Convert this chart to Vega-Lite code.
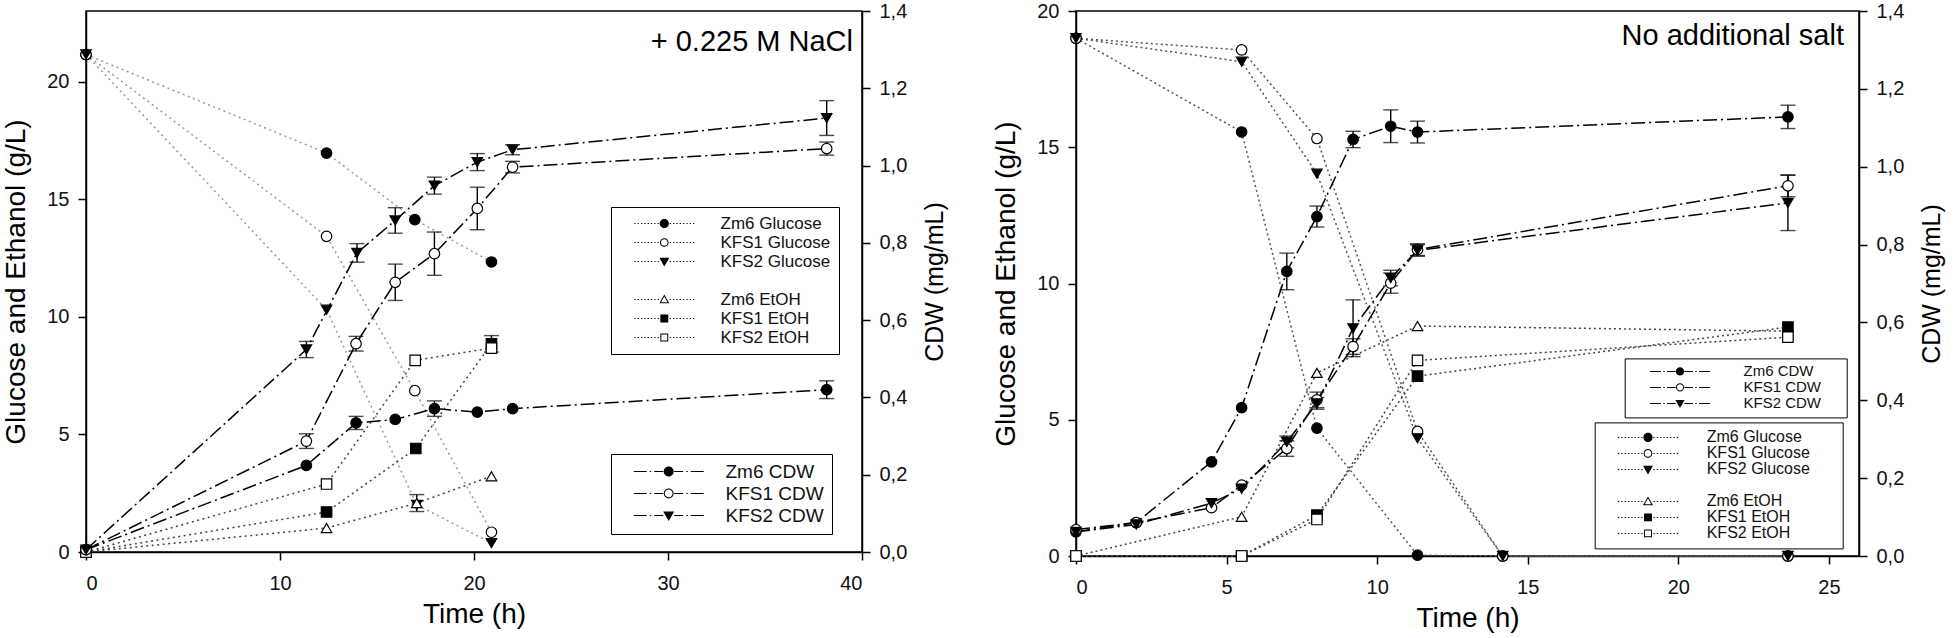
{
"$schema": "https://vega.github.io/schema/vega-lite/v6.json",
"padding": {"left": 2, "top": 0, "right": 0, "bottom": 0},
"spacing": 43,
"datasets": {
"lg": [
{"s":"Zm6 Glucose","t":0,"v":21.15},{"s":"Zm6 Glucose","t":12.4,"v":16.96},{"s":"Zm6 Glucose","t":16.95,"v":14.13},{"s":"Zm6 Glucose","t":20.9,"v":12.33},
{"s":"KFS1 Glucose","t":0,"v":21.15},{"s":"KFS1 Glucose","t":12.4,"v":13.42},{"s":"KFS1 Glucose","t":16.95,"v":6.86},{"s":"KFS1 Glucose","t":20.9,"v":0.84},
{"s":"KFS2 Glucose","t":0,"v":21.15},{"s":"KFS2 Glucose","t":12.4,"v":10.3},{"s":"KFS2 Glucose","t":17.05,"v":2.0},{"s":"KFS2 Glucose","t":20.9,"v":0.38},
{"s":"Zm6 EtOH","t":0,"v":0},{"s":"Zm6 EtOH","t":12.4,"v":1.02},{"s":"Zm6 EtOH","t":17.05,"v":2.08,"lo":1.72,"hi":2.44},{"s":"Zm6 EtOH","t":20.9,"v":3.22},
{"s":"KFS1 EtOH","t":0,"v":0},{"s":"KFS1 EtOH","t":12.4,"v":1.7},{"s":"KFS1 EtOH","t":17.0,"v":4.4},{"s":"KFS1 EtOH","t":20.9,"v":8.85,"lo":8.5,"hi":9.2},
{"s":"KFS2 EtOH","t":0,"v":0},{"s":"KFS2 EtOH","t":12.4,"v":2.89},{"s":"KFS2 EtOH","t":16.97,"v":8.15},{"s":"KFS2 EtOH","t":20.9,"v":8.67}
],
"lc": [
{"s":"Zm6 CDW","t":0,"v":0.006},{"s":"Zm6 CDW","t":11.36,"v":0.224},{"s":"Zm6 CDW","t":13.92,"v":0.334,"lo":0.317,"hi":0.351},{"s":"Zm6 CDW","t":15.94,"v":0.343},{"s":"Zm6 CDW","t":17.96,"v":0.371,"lo":0.351,"hi":0.391},{"s":"Zm6 CDW","t":20.17,"v":0.362},{"s":"Zm6 CDW","t":21.99,"v":0.371},{"s":"Zm6 CDW","t":38.18,"v":0.42,"lo":0.397,"hi":0.443},
{"s":"KFS1 CDW","t":0,"v":0.006},{"s":"KFS1 CDW","t":11.36,"v":0.287,"lo":0.268,"hi":0.306},{"s":"KFS1 CDW","t":13.92,"v":0.539,"lo":0.52,"hi":0.558},{"s":"KFS1 CDW","t":15.94,"v":0.698,"lo":0.651,"hi":0.745},{"s":"KFS1 CDW","t":17.96,"v":0.772,"lo":0.716,"hi":0.828},{"s":"KFS1 CDW","t":20.17,"v":0.889,"lo":0.834,"hi":0.944},{"s":"KFS1 CDW","t":21.99,"v":0.996,"lo":0.981,"hi":1.011},{"s":"KFS1 CDW","t":38.18,"v":1.044,"lo":1.027,"hi":1.061},
{"s":"KFS2 CDW","t":0,"v":0.006},{"s":"KFS2 CDW","t":11.36,"v":0.524,"lo":0.503,"hi":0.545},{"s":"KFS2 CDW","t":13.97,"v":0.774,"lo":0.75,"hi":0.798},{"s":"KFS2 CDW","t":15.94,"v":0.858,"lo":0.825,"hi":0.891},{"s":"KFS2 CDW","t":17.96,"v":0.948,"lo":0.926,"hi":0.97},{"s":"KFS2 CDW","t":20.17,"v":1.009,"lo":0.987,"hi":1.031},{"s":"KFS2 CDW","t":21.99,"v":1.041,"lo":1.028,"hi":1.054},{"s":"KFS2 CDW","t":38.18,"v":1.123,"lo":1.078,"hi":1.168}
],
"rg": [
{"s":"Zm6 Glucose","t":0,"v":19.0},{"s":"Zm6 Glucose","t":5.5,"v":15.56},{"s":"Zm6 Glucose","t":8.0,"v":4.69},{"s":"Zm6 Glucose","t":11.34,"v":0.03},{"s":"Zm6 Glucose","t":14.17,"v":0},{"s":"Zm6 Glucose","t":23.64,"v":0},
{"s":"KFS1 Glucose","t":0,"v":19.0},{"s":"KFS1 Glucose","t":5.5,"v":18.57},{"s":"KFS1 Glucose","t":8.0,"v":15.32},{"s":"KFS1 Glucose","t":11.34,"v":4.57},{"s":"KFS1 Glucose","t":14.17,"v":0},{"s":"KFS1 Glucose","t":23.64,"v":0},
{"s":"KFS2 Glucose","t":0,"v":19.0},{"s":"KFS2 Glucose","t":5.5,"v":18.14},{"s":"KFS2 Glucose","t":8.0,"v":14.03},{"s":"KFS2 Glucose","t":11.34,"v":4.32},{"s":"KFS2 Glucose","t":14.17,"v":0},{"s":"KFS2 Glucose","t":23.64,"v":0},
{"s":"Zm6 EtOH","t":0,"v":0},{"s":"Zm6 EtOH","t":5.5,"v":1.44},{"s":"Zm6 EtOH","t":8.0,"v":6.72},{"s":"Zm6 EtOH","t":11.34,"v":8.44},{"s":"Zm6 EtOH","t":23.64,"v":8.25},
{"s":"KFS1 EtOH","t":0,"v":0},{"s":"KFS1 EtOH","t":5.5,"v":0},{"s":"KFS1 EtOH","t":8.0,"v":1.5},{"s":"KFS1 EtOH","t":11.34,"v":6.6},{"s":"KFS1 EtOH","t":23.64,"v":8.4},
{"s":"KFS2 EtOH","t":0,"v":0},{"s":"KFS2 EtOH","t":5.5,"v":0},{"s":"KFS2 EtOH","t":8.0,"v":1.34},{"s":"KFS2 EtOH","t":11.34,"v":7.18},{"s":"KFS2 EtOH","t":23.64,"v":8.03}
],
"rc": [
{"s":"Zm6 CDW","t":0,"v":0.062},{"s":"Zm6 CDW","t":2.0,"v":0.086},{"s":"Zm6 CDW","t":4.5,"v":0.242},{"s":"Zm6 CDW","t":5.5,"v":0.381},{"s":"Zm6 CDW","t":7.0,"v":0.731,"lo":0.684,"hi":0.778},{"s":"Zm6 CDW","t":8.0,"v":0.872,"lo":0.845,"hi":0.899},{"s":"Zm6 CDW","t":9.2,"v":1.07,"lo":1.049,"hi":1.091},{"s":"Zm6 CDW","t":10.45,"v":1.104,"lo":1.062,"hi":1.146},{"s":"Zm6 CDW","t":11.34,"v":1.089,"lo":1.061,"hi":1.117},{"s":"Zm6 CDW","t":23.64,"v":1.128,"lo":1.098,"hi":1.158},
{"s":"KFS1 CDW","t":0,"v":0.068},{"s":"KFS1 CDW","t":2.0,"v":0.086},{"s":"KFS1 CDW","t":4.5,"v":0.124},{"s":"KFS1 CDW","t":5.5,"v":0.182},{"s":"KFS1 CDW","t":7.0,"v":0.276,"lo":0.256,"hi":0.296},{"s":"KFS1 CDW","t":8.0,"v":0.401,"lo":0.381,"hi":0.421},{"s":"KFS1 CDW","t":9.2,"v":0.538,"lo":0.518,"hi":0.558},{"s":"KFS1 CDW","t":10.45,"v":0.701,"lo":0.675,"hi":0.727},{"s":"KFS1 CDW","t":11.34,"v":0.787,"lo":0.772,"hi":0.802},{"s":"KFS1 CDW","t":23.64,"v":0.951,"lo":0.923,"hi":0.979},
{"s":"KFS2 CDW","t":0,"v":0.062},{"s":"KFS2 CDW","t":2.0,"v":0.081},{"s":"KFS2 CDW","t":4.5,"v":0.136},{"s":"KFS2 CDW","t":5.5,"v":0.173},{"s":"KFS2 CDW","t":7.0,"v":0.293,"lo":0.278,"hi":0.308},{"s":"KFS2 CDW","t":8.0,"v":0.392,"lo":0.377,"hi":0.407},{"s":"KFS2 CDW","t":9.2,"v":0.585,"lo":0.512,"hi":0.658},{"s":"KFS2 CDW","t":10.45,"v":0.714,"lo":0.694,"hi":0.734},{"s":"KFS2 CDW","t":11.34,"v":0.785,"lo":0.77,"hi":0.8},{"s":"KFS2 CDW","t":23.64,"v":0.907,"lo":0.836,"hi":0.978}
]
},
"hconcat": [
{
"width": 776, "height": 541,
"title": {"text": "+ 0.225 M NaCl", "anchor": "end", "frame": "group", "orient": "top", "offset": -56, "dx": -9, "fontSize": 29, "font": "Liberation Sans", "fontWeight": "normal", "color": "black"},
"layer": [
{"data": {"name": "lg"}, "layer": [
{"mark": {"type": "line", "strokeDash": [2, 3.5], "strokeWidth": 1.5},
 "encoding": {
  "x": {"field": "t", "type": "quantitative", "scale": {"domain": [0, 40], "nice": false, "zero": false}, "axis": {"values": [0, 10, 20, 30, 40], "title": "Time (h)"}},
  "y": {"field": "v", "type": "quantitative", "scale": {"domain": [0, 23], "nice": false}, "axis": {"orient": "left", "values": [0, 5, 10, 15, 20], "title": "Glucose and Ethanol (g/L)"}},
  "color": {"field": "s", "type": "nominal", "scale": {"domain": ["Zm6 Glucose","KFS1 Glucose","KFS2 Glucose","Zm6 EtOH","KFS1 EtOH","KFS2 EtOH"], "range": ["#9a9a9a","#9a9a9a","#9a9a9a","#444444","#444444","#444444"]}, "legend": null}}},
{"transform": [{"filter": "isValid(datum.lo)"}], "mark": {"type": "rule", "color": "black", "strokeWidth": 1.4},
 "encoding": {
  "x": {"field": "t", "type": "quantitative", "scale": {"domain": [0, 40], "nice": false, "zero": false}, "axis": {"values": [0, 10, 20, 30, 40], "title": "Time (h)"}},
  "y": {"field": "lo", "type": "quantitative", "scale": {"domain": [0, 23], "nice": false}, "axis": {"orient": "left", "values": [0, 5, 10, 15, 20], "title": "Glucose and Ethanol (g/L)"}},
  "y2": {"field": "hi"}}},
{"transform": [{"filter": "isValid(datum.lo)"}], "mark": {"type": "tick", "orient": "horizontal", "size": 15, "thickness": 1.4, "color": "black"},
 "encoding": {
  "x": {"field": "t", "type": "quantitative", "scale": {"domain": [0, 40], "nice": false, "zero": false}, "axis": {"values": [0, 10, 20, 30, 40], "title": "Time (h)"}},
  "y": {"field": "lo", "type": "quantitative", "scale": {"domain": [0, 23], "nice": false}, "axis": {"orient": "left", "values": [0, 5, 10, 15, 20], "title": "Glucose and Ethanol (g/L)"}}}},
{"transform": [{"filter": "isValid(datum.lo)"}], "mark": {"type": "tick", "orient": "horizontal", "size": 15, "thickness": 1.4, "color": "black"},
 "encoding": {
  "x": {"field": "t", "type": "quantitative", "scale": {"domain": [0, 40], "nice": false, "zero": false}, "axis": {"values": [0, 10, 20, 30, 40], "title": "Time (h)"}},
  "y": {"field": "hi", "type": "quantitative", "scale": {"domain": [0, 23], "nice": false}, "axis": {"orient": "left", "values": [0, 5, 10, 15, 20], "title": "Glucose and Ethanol (g/L)"}}}},
{"mark": {"type": "point", "filled": true, "stroke": "black", "strokeWidth": 1.2, "size": 110, "opacity": 1},
 "encoding": {
  "x": {"field": "t", "type": "quantitative", "scale": {"domain": [0, 40], "nice": false, "zero": false}, "axis": {"values": [0, 10, 20, 30, 40], "title": "Time (h)"}},
  "y": {"field": "v", "type": "quantitative", "scale": {"domain": [0, 23], "nice": false}, "axis": {"orient": "left", "values": [0, 5, 10, 15, 20], "title": "Glucose and Ethanol (g/L)"}},
  "fill": {"field": "s", "type": "nominal", "scale": {"domain": ["Zm6 Glucose","KFS1 Glucose","KFS2 Glucose","Zm6 EtOH","KFS1 EtOH","KFS2 EtOH"], "range": ["black","white","black","white","black","white"]}, "legend": null},
  "shape": {"field": "s", "type": "nominal", "scale": {"domain": ["Zm6 Glucose","KFS1 Glucose","KFS2 Glucose","Zm6 EtOH","KFS1 EtOH","KFS2 EtOH"], "range": ["circle","circle","triangle-down","triangle-up","square","square"]}, "legend": null}}}
]},
{"data": {"name": "lc"}, "layer": [
{"mark": {"type": "line", "strokeDash": [14, 4, 2, 4], "strokeWidth": 1.5, "color": "black"},
 "encoding": {
  "x": {"field": "t", "type": "quantitative", "scale": {"domain": [0, 40], "nice": false, "zero": false}, "axis": {"values": [0, 10, 20, 30, 40], "title": "Time (h)"}},
  "y": {"field": "v", "type": "quantitative", "scale": {"domain": [0, 1.4], "nice": false}, "axis": {"orient": "right", "values": [0, 0.2, 0.4, 0.6, 0.8, 1, 1.2, 1.4], "labelExpr": "replace(format(datum.value, '.1f'), '.', ',')", "title": "CDW (mg/mL)", "titleAngle": 270, "titleBaseline": "top", "titleFontSize": 25, "titlePadding": 16}},
  "detail": {"field": "s", "type": "nominal"}}},
{"transform": [{"filter": "isValid(datum.lo)"}], "mark": {"type": "rule", "color": "black", "strokeWidth": 1.4},
 "encoding": {
  "x": {"field": "t", "type": "quantitative", "scale": {"domain": [0, 40], "nice": false, "zero": false}, "axis": {"values": [0, 10, 20, 30, 40], "title": "Time (h)"}},
  "y": {"field": "lo", "type": "quantitative", "scale": {"domain": [0, 1.4], "nice": false}, "axis": {"orient": "right", "values": [0, 0.2, 0.4, 0.6, 0.8, 1, 1.2, 1.4], "labelExpr": "replace(format(datum.value, '.1f'), '.', ',')", "title": "CDW (mg/mL)", "titleAngle": 270, "titleBaseline": "top", "titleFontSize": 25, "titlePadding": 16}},
  "y2": {"field": "hi"}}},
{"transform": [{"filter": "isValid(datum.lo)"}], "mark": {"type": "tick", "orient": "horizontal", "size": 15, "thickness": 1.4, "color": "black"},
 "encoding": {
  "x": {"field": "t", "type": "quantitative", "scale": {"domain": [0, 40], "nice": false, "zero": false}, "axis": {"values": [0, 10, 20, 30, 40], "title": "Time (h)"}},
  "y": {"field": "lo", "type": "quantitative", "scale": {"domain": [0, 1.4], "nice": false}, "axis": {"orient": "right", "values": [0, 0.2, 0.4, 0.6, 0.8, 1, 1.2, 1.4], "labelExpr": "replace(format(datum.value, '.1f'), '.', ',')", "title": "CDW (mg/mL)", "titleAngle": 270, "titleBaseline": "top", "titleFontSize": 25, "titlePadding": 16}}}},
{"transform": [{"filter": "isValid(datum.lo)"}], "mark": {"type": "tick", "orient": "horizontal", "size": 15, "thickness": 1.4, "color": "black"},
 "encoding": {
  "x": {"field": "t", "type": "quantitative", "scale": {"domain": [0, 40], "nice": false, "zero": false}, "axis": {"values": [0, 10, 20, 30, 40], "title": "Time (h)"}},
  "y": {"field": "hi", "type": "quantitative", "scale": {"domain": [0, 1.4], "nice": false}, "axis": {"orient": "right", "values": [0, 0.2, 0.4, 0.6, 0.8, 1, 1.2, 1.4], "labelExpr": "replace(format(datum.value, '.1f'), '.', ',')", "title": "CDW (mg/mL)", "titleAngle": 270, "titleBaseline": "top", "titleFontSize": 25, "titlePadding": 16}}}},
{"mark": {"type": "point", "filled": true, "stroke": "black", "strokeWidth": 1.2, "size": 110, "opacity": 1},
 "encoding": {
  "x": {"field": "t", "type": "quantitative", "scale": {"domain": [0, 40], "nice": false, "zero": false}, "axis": {"values": [0, 10, 20, 30, 40], "title": "Time (h)"}},
  "y": {"field": "v", "type": "quantitative", "scale": {"domain": [0, 1.4], "nice": false}, "axis": {"orient": "right", "values": [0, 0.2, 0.4, 0.6, 0.8, 1, 1.2, 1.4], "labelExpr": "replace(format(datum.value, '.1f'), '.', ',')", "title": "CDW (mg/mL)", "titleAngle": 270, "titleBaseline": "top", "titleFontSize": 25, "titlePadding": 16}},
  "fill": {"field": "s", "type": "nominal", "scale": {"domain": ["Zm6 CDW","KFS1 CDW","KFS2 CDW"], "range": ["black","white","black"]}, "legend": null},
  "shape": {"field": "s", "type": "nominal", "scale": {"domain": ["Zm6 CDW","KFS1 CDW","KFS2 CDW"], "range": ["circle","circle","triangle-down"]}, "legend": null}}}
]},
{"data": {"values": []}, "mark": {"type": "point", "filled": true, "strokeWidth": 0, "size": 69.4, "opacity": 1, "color": "black"},
 "encoding": {
  "fill": {"field": "s", "type": "nominal", "scale": {"domain": ["Zm6 Glucose","KFS1 Glucose","KFS2 Glucose"," ","Zm6 EtOH","KFS1 EtOH","KFS2 EtOH"], "range": ["black","black","black","black","black","black","black"]}, "legend": null},
  "shape": {"field": "s", "type": "nominal", "scale": {"domain": ["Zm6 Glucose","KFS1 Glucose","KFS2 Glucose"," ","Zm6 EtOH","KFS1 EtOH","KFS2 EtOH"], "range": [
   "M-9.06,0h0.001M34.5,0h0.001M-7.2,-0.12h0.3v0.24h-0.3ZM-6.4,-0.12h0.3v0.24h-0.3ZM-5.6,-0.12h0.3v0.24h-0.3ZM-4.8,-0.12h0.3v0.24h-0.3ZM-4,-0.12h0.3v0.24h-0.3ZM-3.2,-0.12h0.3v0.24h-0.3ZM-2.4,-0.12h0.3v0.24h-0.3ZM-1.6,-0.12h0.3v0.24h-0.3ZM1.3,-0.12h0.3v0.24h-0.3ZM2.1,-0.12h0.3v0.24h-0.3ZM2.9,-0.12h0.3v0.24h-0.3ZM3.7,-0.12h0.3v0.24h-0.3ZM4.5,-0.12h0.3v0.24h-0.3ZM5.3,-0.12h0.3v0.24h-0.3ZM6.1,-0.12h0.3v0.24h-0.3ZM6.9,-0.12h0.3v0.24h-0.3ZM1.1,0A1.1,1.1,0,1,1,-1.1,0A1.1,1.1,0,1,1,1.1,0Z",
   "M-9.06,0h0.001M34.5,0h0.001M-7.2,-0.12h0.3v0.24h-0.3ZM-6.4,-0.12h0.3v0.24h-0.3ZM-5.6,-0.12h0.3v0.24h-0.3ZM-4.8,-0.12h0.3v0.24h-0.3ZM-4,-0.12h0.3v0.24h-0.3ZM-3.2,-0.12h0.3v0.24h-0.3ZM-2.4,-0.12h0.3v0.24h-0.3ZM-1.6,-0.12h0.3v0.24h-0.3ZM1.3,-0.12h0.3v0.24h-0.3ZM2.1,-0.12h0.3v0.24h-0.3ZM2.9,-0.12h0.3v0.24h-0.3ZM3.7,-0.12h0.3v0.24h-0.3ZM4.5,-0.12h0.3v0.24h-0.3ZM5.3,-0.12h0.3v0.24h-0.3ZM6.1,-0.12h0.3v0.24h-0.3ZM6.9,-0.12h0.3v0.24h-0.3ZM1.05,0A1.05,1.05,0,1,1,-1.05,0A1.05,1.05,0,1,1,1.05,0ZM0.81,0A0.81,0.81,0,1,0,-0.81,0A0.81,0.81,0,1,0,0.81,0Z",
   "M-9.06,0h0.001M34.5,0h0.001M-7.2,-0.12h0.3v0.24h-0.3ZM-6.4,-0.12h0.3v0.24h-0.3ZM-5.6,-0.12h0.3v0.24h-0.3ZM-4.8,-0.12h0.3v0.24h-0.3ZM-4,-0.12h0.3v0.24h-0.3ZM-3.2,-0.12h0.3v0.24h-0.3ZM-2.4,-0.12h0.3v0.24h-0.3ZM-1.6,-0.12h0.3v0.24h-0.3ZM1.3,-0.12h0.3v0.24h-0.3ZM2.1,-0.12h0.3v0.24h-0.3ZM2.9,-0.12h0.3v0.24h-0.3ZM3.7,-0.12h0.3v0.24h-0.3ZM4.5,-0.12h0.3v0.24h-0.3ZM5.3,-0.12h0.3v0.24h-0.3ZM6.1,-0.12h0.3v0.24h-0.3ZM6.9,-0.12h0.3v0.24h-0.3ZM-1.2,-0.9L1.2,-0.9L0,1.2Z",
   "M-9.06,0h0.001M34.5,0h0.001",
   "M-9.06,0h0.001M34.5,0h0.001M-7.2,-0.12h0.3v0.24h-0.3ZM-6.4,-0.12h0.3v0.24h-0.3ZM-5.6,-0.12h0.3v0.24h-0.3ZM-4.8,-0.12h0.3v0.24h-0.3ZM-4,-0.12h0.3v0.24h-0.3ZM-3.2,-0.12h0.3v0.24h-0.3ZM-2.4,-0.12h0.3v0.24h-0.3ZM-1.6,-0.12h0.3v0.24h-0.3ZM1.3,-0.12h0.3v0.24h-0.3ZM2.1,-0.12h0.3v0.24h-0.3ZM2.9,-0.12h0.3v0.24h-0.3ZM3.7,-0.12h0.3v0.24h-0.3ZM4.5,-0.12h0.3v0.24h-0.3ZM5.3,-0.12h0.3v0.24h-0.3ZM6.1,-0.12h0.3v0.24h-0.3ZM6.9,-0.12h0.3v0.24h-0.3ZM-1.2,0.9L1.2,0.9L0,-1.2ZM0,-0.717L0.786,0.658L-0.786,0.658Z",
   "M-9.06,0h0.001M34.5,0h0.001M-7.2,-0.12h0.3v0.24h-0.3ZM-6.4,-0.12h0.3v0.24h-0.3ZM-5.6,-0.12h0.3v0.24h-0.3ZM-4.8,-0.12h0.3v0.24h-0.3ZM-4,-0.12h0.3v0.24h-0.3ZM-3.2,-0.12h0.3v0.24h-0.3ZM-2.4,-0.12h0.3v0.24h-0.3ZM-1.6,-0.12h0.3v0.24h-0.3ZM1.3,-0.12h0.3v0.24h-0.3ZM2.1,-0.12h0.3v0.24h-0.3ZM2.9,-0.12h0.3v0.24h-0.3ZM3.7,-0.12h0.3v0.24h-0.3ZM4.5,-0.12h0.3v0.24h-0.3ZM5.3,-0.12h0.3v0.24h-0.3ZM6.1,-0.12h0.3v0.24h-0.3ZM6.9,-0.12h0.3v0.24h-0.3ZM-0.95,-0.95H0.95V0.95H-0.95Z",
   "M-9.06,0h0.001M34.5,0h0.001M-7.2,-0.12h0.3v0.24h-0.3ZM-6.4,-0.12h0.3v0.24h-0.3ZM-5.6,-0.12h0.3v0.24h-0.3ZM-4.8,-0.12h0.3v0.24h-0.3ZM-4,-0.12h0.3v0.24h-0.3ZM-3.2,-0.12h0.3v0.24h-0.3ZM-2.4,-0.12h0.3v0.24h-0.3ZM-1.6,-0.12h0.3v0.24h-0.3ZM1.3,-0.12h0.3v0.24h-0.3ZM2.1,-0.12h0.3v0.24h-0.3ZM2.9,-0.12h0.3v0.24h-0.3ZM3.7,-0.12h0.3v0.24h-0.3ZM4.5,-0.12h0.3v0.24h-0.3ZM5.3,-0.12h0.3v0.24h-0.3ZM6.1,-0.12h0.3v0.24h-0.3ZM6.9,-0.12h0.3v0.24h-0.3ZM-0.95,-0.95H0.95V0.95H-0.95ZM-0.71,-0.71V0.71H0.71V-0.71Z"]},
   "legend": {"orient": "none", "legendX": 525, "legendY": 196, "title": null, "columns": 1, "padding": 8, "strokeColor": "black", "fillColor": "white", "labelFontSize": 17, "labelAlign": "left", "symbolSize": 69.4, "symbolOffset": 36.8, "labelOffset": 47.7, "rowPadding": 1, "symbolStrokeWidth": 0, "symbolFillColor": "black",
    "encode": {"symbols": {"fill": {"value": "black"}, "strokeWidth": {"value": 0}, "opacity": {"value": 1}}, "legend": {"strokeWidth": {"value": 1.5}}}}}}},
{"data": {"values": []}, "mark": {"type": "point", "filled": true, "strokeWidth": 0, "size": 100, "opacity": 1, "color": "black"},
 "encoding": {
  "fill": {"field": "s", "type": "nominal", "scale": {"domain": ["Zm6 CDW","KFS1 CDW","KFS2 CDW"], "range": ["black","black","black"]}, "legend": null},
  "shape": {"field": "s", "type": "nominal", "scale": {"domain": ["Zm6 CDW","KFS1 CDW","KFS2 CDW"], "range": [
   "M-8.28,0h0.001M28.05,0h0.001M-7,-0.1H-4.4V0.1H-7ZM-3.8,-0.1H-3.5V0.1H-3.8ZM-2.9,-0.1H-1.1V0.1H-2.9ZM1.1,-0.1H2.9V0.1H1.1ZM3.5,-0.1H3.8V0.1H3.5ZM4.4,-0.1H7V0.1H4.4ZM1,0A1,1,0,1,1,-1,0A1,1,0,1,1,1,0Z",
   "M-8.28,0h0.001M28.05,0h0.001M-7,-0.1H-4.4V0.1H-7ZM-3.8,-0.1H-3.5V0.1H-3.8ZM-2.9,-0.1H-1.1V0.1H-2.9ZM1.1,-0.1H2.9V0.1H1.1ZM3.5,-0.1H3.8V0.1H3.5ZM4.4,-0.1H7V0.1H4.4ZM0.98,0A0.98,0.98,0,1,1,-0.98,0A0.98,0.98,0,1,1,0.98,0ZM0.78,0A0.78,0.78,0,1,0,-0.78,0A0.78,0.78,0,1,0,0.78,0Z",
   "M-8.28,0h0.001M28.05,0h0.001M-7,-0.1H-4.4V0.1H-7ZM-3.8,-0.1H-3.5V0.1H-3.8ZM-2.9,-0.1H-1.1V0.1H-2.9ZM1.1,-0.1H2.9V0.1H1.1ZM3.5,-0.1H3.8V0.1H3.5ZM4.4,-0.1H7V0.1H4.4ZM-1.1,-0.8L1.1,-0.8L0,1.1Z"]},
   "legend": {"orient": "none", "legendX": 525, "legendY": 443, "title": null, "columns": 1, "padding": 8, "strokeColor": "black", "fillColor": "white", "labelFontSize": 19, "labelAlign": "left", "symbolSize": 100, "symbolOffset": 40.2, "labelOffset": 47.3, "rowPadding": 2, "symbolStrokeWidth": 0, "symbolFillColor": "black",
    "encode": {"symbols": {"fill": {"value": "black"}, "strokeWidth": {"value": 0}, "opacity": {"value": 1}}, "legend": {"strokeWidth": {"value": 1.5}}}}}}}
],
"resolve": {"scale": {"y": "independent", "shape": "independent", "fill": "independent", "color": "independent"}, "legend": {"shape": "independent", "fill": "independent"}}
},
{
"width": 783, "height": 545,
"title": {"text": "No additional salt", "anchor": "end", "frame": "group", "orient": "top", "offset": -50, "dx": -15, "fontSize": 29, "font": "Liberation Sans", "fontWeight": "normal", "color": "black"},
"layer": [
{"data": {"name": "rg"}, "layer": [
{"mark": {"type": "line", "strokeDash": [2, 3], "strokeWidth": 1.5},
 "encoding": {
  "x": {"field": "t", "type": "quantitative", "scale": {"domain": [0, 26], "nice": false, "zero": false}, "axis": {"values": [0, 5, 10, 15, 20, 25], "title": "Time (h)"}},
  "y": {"field": "v", "type": "quantitative", "scale": {"domain": [0, 20], "nice": false}, "axis": {"orient": "left", "values": [0, 5, 10, 15, 20], "title": "Glucose and Ethanol (g/L)"}},
  "color": {"field": "s", "type": "nominal", "scale": {"domain": ["Zm6 Glucose","KFS1 Glucose","KFS2 Glucose","Zm6 EtOH","KFS1 EtOH","KFS2 EtOH"], "range": ["#555555","#555555","#555555","#444444","#444444","#444444"]}, "legend": null}}},
{"mark": {"type": "point", "filled": true, "stroke": "black", "strokeWidth": 1.2, "size": 110, "opacity": 1},
 "encoding": {
  "x": {"field": "t", "type": "quantitative", "scale": {"domain": [0, 26], "nice": false, "zero": false}, "axis": {"values": [0, 5, 10, 15, 20, 25], "title": "Time (h)"}},
  "y": {"field": "v", "type": "quantitative", "scale": {"domain": [0, 20], "nice": false}, "axis": {"orient": "left", "values": [0, 5, 10, 15, 20], "title": "Glucose and Ethanol (g/L)"}},
  "fill": {"field": "s", "type": "nominal", "scale": {"domain": ["Zm6 Glucose","KFS1 Glucose","KFS2 Glucose","Zm6 EtOH","KFS1 EtOH","KFS2 EtOH"], "range": ["black","white","black","white","black","white"]}, "legend": null},
  "shape": {"field": "s", "type": "nominal", "scale": {"domain": ["Zm6 Glucose","KFS1 Glucose","KFS2 Glucose","Zm6 EtOH","KFS1 EtOH","KFS2 EtOH"], "range": ["circle","circle","triangle-down","triangle-up","square","square"]}, "legend": null}}}
]},
{"data": {"name": "rc"}, "layer": [
{"mark": {"type": "line", "strokeDash": [14, 4, 2, 4], "strokeWidth": 1.5, "color": "black"},
 "encoding": {
  "x": {"field": "t", "type": "quantitative", "scale": {"domain": [0, 26], "nice": false, "zero": false}, "axis": {"values": [0, 5, 10, 15, 20, 25], "title": "Time (h)"}},
  "y": {"field": "v", "type": "quantitative", "scale": {"domain": [0, 1.4], "nice": false}, "axis": {"orient": "right", "values": [0, 0.2, 0.4, 0.6, 0.8, 1, 1.2, 1.4], "labelExpr": "replace(format(datum.value, '.1f'), '.', ',')", "title": "CDW (mg/mL)", "titleAngle": 270, "titleBaseline": "top", "titleFontSize": 25, "titlePadding": 16}},
  "detail": {"field": "s", "type": "nominal"}}},
{"transform": [{"filter": "isValid(datum.lo)"}], "mark": {"type": "rule", "color": "black", "strokeWidth": 1.4},
 "encoding": {
  "x": {"field": "t", "type": "quantitative", "scale": {"domain": [0, 26], "nice": false, "zero": false}, "axis": {"values": [0, 5, 10, 15, 20, 25], "title": "Time (h)"}},
  "y": {"field": "lo", "type": "quantitative", "scale": {"domain": [0, 1.4], "nice": false}, "axis": {"orient": "right", "values": [0, 0.2, 0.4, 0.6, 0.8, 1, 1.2, 1.4], "labelExpr": "replace(format(datum.value, '.1f'), '.', ',')", "title": "CDW (mg/mL)", "titleAngle": 270, "titleBaseline": "top", "titleFontSize": 25, "titlePadding": 16}},
  "y2": {"field": "hi"}}},
{"transform": [{"filter": "isValid(datum.lo)"}], "mark": {"type": "tick", "orient": "horizontal", "size": 15, "thickness": 1.4, "color": "black"},
 "encoding": {
  "x": {"field": "t", "type": "quantitative", "scale": {"domain": [0, 26], "nice": false, "zero": false}, "axis": {"values": [0, 5, 10, 15, 20, 25], "title": "Time (h)"}},
  "y": {"field": "lo", "type": "quantitative", "scale": {"domain": [0, 1.4], "nice": false}, "axis": {"orient": "right", "values": [0, 0.2, 0.4, 0.6, 0.8, 1, 1.2, 1.4], "labelExpr": "replace(format(datum.value, '.1f'), '.', ',')", "title": "CDW (mg/mL)", "titleAngle": 270, "titleBaseline": "top", "titleFontSize": 25, "titlePadding": 16}}}},
{"transform": [{"filter": "isValid(datum.lo)"}], "mark": {"type": "tick", "orient": "horizontal", "size": 15, "thickness": 1.4, "color": "black"},
 "encoding": {
  "x": {"field": "t", "type": "quantitative", "scale": {"domain": [0, 26], "nice": false, "zero": false}, "axis": {"values": [0, 5, 10, 15, 20, 25], "title": "Time (h)"}},
  "y": {"field": "hi", "type": "quantitative", "scale": {"domain": [0, 1.4], "nice": false}, "axis": {"orient": "right", "values": [0, 0.2, 0.4, 0.6, 0.8, 1, 1.2, 1.4], "labelExpr": "replace(format(datum.value, '.1f'), '.', ',')", "title": "CDW (mg/mL)", "titleAngle": 270, "titleBaseline": "top", "titleFontSize": 25, "titlePadding": 16}}}},
{"mark": {"type": "point", "filled": true, "stroke": "black", "strokeWidth": 1.2, "size": 110, "opacity": 1},
 "encoding": {
  "x": {"field": "t", "type": "quantitative", "scale": {"domain": [0, 26], "nice": false, "zero": false}, "axis": {"values": [0, 5, 10, 15, 20, 25], "title": "Time (h)"}},
  "y": {"field": "v", "type": "quantitative", "scale": {"domain": [0, 1.4], "nice": false}, "axis": {"orient": "right", "values": [0, 0.2, 0.4, 0.6, 0.8, 1, 1.2, 1.4], "labelExpr": "replace(format(datum.value, '.1f'), '.', ',')", "title": "CDW (mg/mL)", "titleAngle": 270, "titleBaseline": "top", "titleFontSize": 25, "titlePadding": 16}},
  "fill": {"field": "s", "type": "nominal", "scale": {"domain": ["Zm6 CDW","KFS1 CDW","KFS2 CDW"], "range": ["black","white","black"]}, "legend": null},
  "shape": {"field": "s", "type": "nominal", "scale": {"domain": ["Zm6 CDW","KFS1 CDW","KFS2 CDW"], "range": ["circle","circle","triangle-down"]}, "legend": null}}}
]},
{"data": {"values": []}, "mark": {"type": "point", "filled": true, "strokeWidth": 0, "size": 69.4, "opacity": 1, "color": "black"},
 "encoding": {
  "fill": {"field": "s", "type": "nominal", "scale": {"domain": ["Zm6 Glucose","KFS1 Glucose","KFS2 Glucose"," ","Zm6 EtOH","KFS1 EtOH","KFS2 EtOH"], "range": ["black","black","black","black","black","black","black"]}, "legend": null},
  "shape": {"field": "s", "type": "nominal", "scale": {"domain": ["Zm6 Glucose","KFS1 Glucose","KFS2 Glucose"," ","Zm6 EtOH","KFS1 EtOH","KFS2 EtOH"], "range": [
   "M-9.26,0h0.001M45,0h0.001M-7.2,-0.12h0.3v0.24h-0.3ZM-6.4,-0.12h0.3v0.24h-0.3ZM-5.6,-0.12h0.3v0.24h-0.3ZM-4.8,-0.12h0.3v0.24h-0.3ZM-4,-0.12h0.3v0.24h-0.3ZM-3.2,-0.12h0.3v0.24h-0.3ZM-2.4,-0.12h0.3v0.24h-0.3ZM-1.6,-0.12h0.3v0.24h-0.3ZM1.3,-0.12h0.3v0.24h-0.3ZM2.1,-0.12h0.3v0.24h-0.3ZM2.9,-0.12h0.3v0.24h-0.3ZM3.7,-0.12h0.3v0.24h-0.3ZM4.5,-0.12h0.3v0.24h-0.3ZM5.3,-0.12h0.3v0.24h-0.3ZM6.1,-0.12h0.3v0.24h-0.3ZM6.9,-0.12h0.3v0.24h-0.3ZM1.1,0A1.1,1.1,0,1,1,-1.1,0A1.1,1.1,0,1,1,1.1,0Z",
   "M-9.26,0h0.001M45,0h0.001M-7.2,-0.12h0.3v0.24h-0.3ZM-6.4,-0.12h0.3v0.24h-0.3ZM-5.6,-0.12h0.3v0.24h-0.3ZM-4.8,-0.12h0.3v0.24h-0.3ZM-4,-0.12h0.3v0.24h-0.3ZM-3.2,-0.12h0.3v0.24h-0.3ZM-2.4,-0.12h0.3v0.24h-0.3ZM-1.6,-0.12h0.3v0.24h-0.3ZM1.3,-0.12h0.3v0.24h-0.3ZM2.1,-0.12h0.3v0.24h-0.3ZM2.9,-0.12h0.3v0.24h-0.3ZM3.7,-0.12h0.3v0.24h-0.3ZM4.5,-0.12h0.3v0.24h-0.3ZM5.3,-0.12h0.3v0.24h-0.3ZM6.1,-0.12h0.3v0.24h-0.3ZM6.9,-0.12h0.3v0.24h-0.3ZM1.05,0A1.05,1.05,0,1,1,-1.05,0A1.05,1.05,0,1,1,1.05,0ZM0.81,0A0.81,0.81,0,1,0,-0.81,0A0.81,0.81,0,1,0,0.81,0Z",
   "M-9.26,0h0.001M45,0h0.001M-7.2,-0.12h0.3v0.24h-0.3ZM-6.4,-0.12h0.3v0.24h-0.3ZM-5.6,-0.12h0.3v0.24h-0.3ZM-4.8,-0.12h0.3v0.24h-0.3ZM-4,-0.12h0.3v0.24h-0.3ZM-3.2,-0.12h0.3v0.24h-0.3ZM-2.4,-0.12h0.3v0.24h-0.3ZM-1.6,-0.12h0.3v0.24h-0.3ZM1.3,-0.12h0.3v0.24h-0.3ZM2.1,-0.12h0.3v0.24h-0.3ZM2.9,-0.12h0.3v0.24h-0.3ZM3.7,-0.12h0.3v0.24h-0.3ZM4.5,-0.12h0.3v0.24h-0.3ZM5.3,-0.12h0.3v0.24h-0.3ZM6.1,-0.12h0.3v0.24h-0.3ZM6.9,-0.12h0.3v0.24h-0.3ZM-1.2,-0.9L1.2,-0.9L0,1.2Z",
   "M-9.26,0h0.001M45,0h0.001",
   "M-9.26,0h0.001M45,0h0.001M-7.2,-0.12h0.3v0.24h-0.3ZM-6.4,-0.12h0.3v0.24h-0.3ZM-5.6,-0.12h0.3v0.24h-0.3ZM-4.8,-0.12h0.3v0.24h-0.3ZM-4,-0.12h0.3v0.24h-0.3ZM-3.2,-0.12h0.3v0.24h-0.3ZM-2.4,-0.12h0.3v0.24h-0.3ZM-1.6,-0.12h0.3v0.24h-0.3ZM1.3,-0.12h0.3v0.24h-0.3ZM2.1,-0.12h0.3v0.24h-0.3ZM2.9,-0.12h0.3v0.24h-0.3ZM3.7,-0.12h0.3v0.24h-0.3ZM4.5,-0.12h0.3v0.24h-0.3ZM5.3,-0.12h0.3v0.24h-0.3ZM6.1,-0.12h0.3v0.24h-0.3ZM6.9,-0.12h0.3v0.24h-0.3ZM-1.2,0.9L1.2,0.9L0,-1.2ZM0,-0.717L0.786,0.658L-0.786,0.658Z",
   "M-9.26,0h0.001M45,0h0.001M-7.2,-0.12h0.3v0.24h-0.3ZM-6.4,-0.12h0.3v0.24h-0.3ZM-5.6,-0.12h0.3v0.24h-0.3ZM-4.8,-0.12h0.3v0.24h-0.3ZM-4,-0.12h0.3v0.24h-0.3ZM-3.2,-0.12h0.3v0.24h-0.3ZM-2.4,-0.12h0.3v0.24h-0.3ZM-1.6,-0.12h0.3v0.24h-0.3ZM1.3,-0.12h0.3v0.24h-0.3ZM2.1,-0.12h0.3v0.24h-0.3ZM2.9,-0.12h0.3v0.24h-0.3ZM3.7,-0.12h0.3v0.24h-0.3ZM4.5,-0.12h0.3v0.24h-0.3ZM5.3,-0.12h0.3v0.24h-0.3ZM6.1,-0.12h0.3v0.24h-0.3ZM6.9,-0.12h0.3v0.24h-0.3ZM-0.95,-0.95H0.95V0.95H-0.95Z",
   "M-9.26,0h0.001M45,0h0.001M-7.2,-0.12h0.3v0.24h-0.3ZM-6.4,-0.12h0.3v0.24h-0.3ZM-5.6,-0.12h0.3v0.24h-0.3ZM-4.8,-0.12h0.3v0.24h-0.3ZM-4,-0.12h0.3v0.24h-0.3ZM-3.2,-0.12h0.3v0.24h-0.3ZM-2.4,-0.12h0.3v0.24h-0.3ZM-1.6,-0.12h0.3v0.24h-0.3ZM1.3,-0.12h0.3v0.24h-0.3ZM2.1,-0.12h0.3v0.24h-0.3ZM2.9,-0.12h0.3v0.24h-0.3ZM3.7,-0.12h0.3v0.24h-0.3ZM4.5,-0.12h0.3v0.24h-0.3ZM5.3,-0.12h0.3v0.24h-0.3ZM6.1,-0.12h0.3v0.24h-0.3ZM6.9,-0.12h0.3v0.24h-0.3ZM-0.95,-0.95H0.95V0.95H-0.95ZM-0.71,-0.71V0.71H0.71V-0.71Z"]},
   "legend": {"orient": "none", "legendX": 518.7, "legendY": 411.4, "title": null, "columns": 1, "padding": 7, "strokeColor": "black", "fillColor": "white", "labelFontSize": 16, "labelAlign": "left", "symbolSize": 69.4, "symbolOffset": 38.3, "labelOffset": 50.7, "rowPadding": 0, "symbolStrokeWidth": 0, "symbolFillColor": "black",
    "encode": {"symbols": {"fill": {"value": "black"}, "strokeWidth": {"value": 0}, "opacity": {"value": 1}}, "legend": {"strokeWidth": {"value": 1.5}}}}}}},
{"data": {"values": []}, "mark": {"type": "point", "filled": true, "strokeWidth": 0, "size": 62.4, "opacity": 1, "color": "black"},
 "encoding": {
  "fill": {"field": "s", "type": "nominal", "scale": {"domain": ["Zm6 CDW","KFS1 CDW","KFS2 CDW"], "range": ["black","black","black"]}, "legend": null},
  "shape": {"field": "s", "type": "nominal", "scale": {"domain": ["Zm6 CDW","KFS1 CDW","KFS2 CDW"], "range": [
   "M-10.5,0h0.001M40.8,0h0.001M-7.6,-0.125H-4.8V0.125H-7.6ZM-4.2,-0.125H-3.9V0.125H-4.2ZM-3.3,-0.125H-1.1V0.125H-3.3ZM1.1,-0.125H3.3V0.125H1.1ZM3.9,-0.125H4.2V0.125H3.9ZM4.8,-0.125H7.6V0.125H4.8ZM1.05,0A1.05,1.05,0,1,1,-1.05,0A1.05,1.05,0,1,1,1.05,0Z",
   "M-10.5,0h0.001M40.8,0h0.001M-7.6,-0.125H-4.8V0.125H-7.6ZM-4.2,-0.125H-3.9V0.125H-4.2ZM-3.3,-0.125H-1.1V0.125H-3.3ZM1.1,-0.125H3.3V0.125H1.1ZM3.9,-0.125H4.2V0.125H3.9ZM4.8,-0.125H7.6V0.125H4.8ZM1.02,0A1.02,1.02,0,1,1,-1.02,0A1.02,1.02,0,1,1,1.02,0ZM0.77,0A0.77,0.77,0,1,0,-0.77,0A0.77,0.77,0,1,0,0.77,0Z",
   "M-10.5,0h0.001M40.8,0h0.001M-7.6,-0.125H-4.8V0.125H-7.6ZM-4.2,-0.125H-3.9V0.125H-4.2ZM-3.3,-0.125H-1.1V0.125H-3.3ZM1.1,-0.125H3.3V0.125H1.1ZM3.9,-0.125H4.2V0.125H3.9ZM4.8,-0.125H7.6V0.125H4.8ZM-1.15,-0.85L1.15,-0.85L0,1.15Z"]},
   "legend": {"orient": "none", "legendX": 548.7, "legendY": 347.4, "title": null, "columns": 1, "padding": 5.5, "strokeColor": "black", "fillColor": "white", "labelFontSize": 15, "labelAlign": "left", "symbolSize": 62.4, "symbolOffset": 42.3, "labelOffset": 56, "rowPadding": 0, "symbolStrokeWidth": 0, "symbolFillColor": "black",
    "encode": {"symbols": {"fill": {"value": "black"}, "strokeWidth": {"value": 0}, "opacity": {"value": 1}}, "legend": {"strokeWidth": {"value": 1.5}}}}}}}
],
"resolve": {"scale": {"y": "independent", "shape": "independent", "fill": "independent", "color": "independent"}, "legend": {"shape": "independent", "fill": "independent"}}
}
],
"resolve": {"scale": {"x": "independent", "y": "independent", "color": "independent", "shape": "independent", "fill": "independent"}, "legend": {"shape": "independent", "fill": "independent", "color": "independent"}},
"config": {
 "font": "Liberation Sans",
 "view": {"stroke": "black", "strokeWidth": 1.5},
 "axis": {"grid": false, "domainColor": "black", "domainWidth": 1.5, "tickColor": "black", "tickWidth": 1.5, "tickSize": 8, "labelFont": "Liberation Sans", "labelFontSize": 20, "labelColor": "#111111", "labelPadding": 9, "titleFont": "Liberation Sans", "titleFontSize": 28, "titleFontWeight": "normal", "titleColor": "black", "titlePadding": 16},
 "axisX": {"titlePadding": 7, "labelPadding": 13},
 "legend": {"labelFont": "Liberation Sans", "labelColor": "#111111", "labelLimit": 400}
}
}
